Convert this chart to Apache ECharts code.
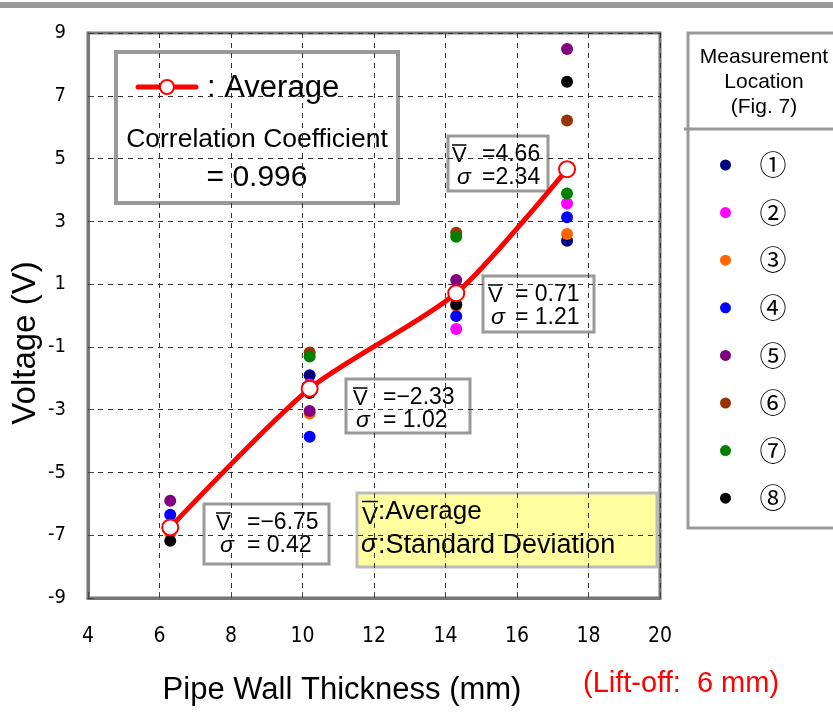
<!DOCTYPE html>
<html>
<head>
<meta charset="utf-8">
<script src="https://cdn.jsdelivr.net/npm/echarts@6/dist/echarts.min.js"></script>
<style>
  html, body { margin: 0; padding: 0; background: #fff; }
  #chart { width: 833px; height: 714px; }
</style>
</head>
<body>
<div id="chart"></div>
<script>
// pipe wall thickness (mm)
const thickness = [6.3, 10.2, 14.3, 17.4];
// voltage per measurement location (V)
const loc1 = [-6.8, -1.9, 0.6, 2.38];
const loc2 = [-6.9, -2.2, -0.43, 3.57];
const loc3 = [-6.95, -3.12, 0.3, 2.6];
const loc4 = [-6.35, -3.86, -0.02, 3.13];
const loc5 = [-5.9, -3.04, 1.13, 8.49];
const loc6 = [-6.75, -1.18, 2.64, 6.21];
const loc7 = [-6.85, -1.31, 2.51, 3.89];
const loc8 = [-7.18, -2.47, 0.36, 7.45];
const average = [-6.75, -2.33, 0.71, 4.66];
const stdDev = [0.42, 1.02, 1.21, 2.34];

const locNames = ['①', '②', '③', '④', '⑤', '⑥', '⑦', '⑧'];
const locColors = ['#000080', '#ff00ff', '#ff6600', '#0000ff', '#800080', '#993300', '#008000', '#000000'];
const locData = [loc1, loc2, loc3, loc4, loc5, loc6, loc7, loc8];

const sans = "'Liberation Sans', Arial, sans-serif";
const narrow = "'Liberation Sans Narrow', 'DejaVu Sans Condensed', sans-serif";

const pairs = (ys) => thickness.map((x, i) => [x, ys[i]]);

const scatterSeries = locData.map((ys, i) => ({
  name: locNames[i],
  type: 'scatter',
  data: pairs(ys),
  symbolSize: 12,
  itemStyle: { color: locColors[i], opacity: 1 },
  z: 2 + i,
}));

function fmt(v) {
  return (v < 0 ? '\u2212' : '') + Math.abs(v).toFixed(2);
}

function txt(x, y, text, size, extra) {
  return {
    type: 'text', x: x, y: y,
    style: Object.assign({ text: text, fontSize: size, fontFamily: sans, fill: '#000' }, extra || {}),
  };
}

// "V" with an overline: text top at ty, bar at by
function vBar(x, ty, by, size) {
  return [
    txt(x, ty, 'V', size),
    { type: 'line', shape: { x1: x, y1: by, x2: x + size * 0.66, y2: by },
      style: { stroke: '#000', lineWidth: 1.5 } },
  ];
}

// stat box: rect + two lines of text
function statBox(x, y, w, h, i, o) {
  return {
    type: 'group',
    x: x,
    y: y,
    z: 50,
    children: [
      { type: 'rect', shape: { x: 0, y: 0, width: w, height: h },
        style: { fill: '#fff', stroke: '#999', lineWidth: 3 } },
      ...vBar(o.vx, 9, 9, 22),
      txt(o.eqx, 7, o.sepA + fmt(average[i]), 23),
      txt(o.sx, 30, 'σ', 23, { fontStyle: 'italic' }),
      txt(o.eqx, 30, o.sepB + stdDev[i].toFixed(2), 23),
    ],
  };
}

const chart = echarts.init(document.getElementById('chart'));
chart.setOption({
  animation: false,
  grid: {
    left: 88, top: 33, right: 173, bottom: 116,
    show: true, borderColor: '#777', borderWidth: 3,
  },
  legend: {
    data: locNames,
    orient: 'vertical',
    left: 715,
    top: 145,
    itemWidth: 30,
    itemHeight: 11,
    itemGap: 17.6,
    icon: 'circle',
    selectedMode: false,
    textStyle: {
      fontSize: 27, lineHeight: 30, color: '#000',
      fontFamily: "'Noto Sans CJK JP', sans-serif",
      padding: [0, 0, 0, 14],
    },
  },
  xAxis: {
    type: 'value',
    min: 4, max: 20, interval: 2,
    axisLine: { show: true, onZero: false, lineStyle: { color: '#777', width: 3 } },
    axisTick: { show: true, inside: true, length: 6, lineStyle: { color: '#444' } },
    axisLabel: { fontSize: 21, color: '#000', margin: 28, fontFamily: narrow },
    splitLine: { show: true, lineStyle: { color: '#333', type: [5, 5], width: 1 } },
  },
  yAxis: {
    type: 'value',
    min: -9, max: 9, interval: 2,
    axisLine: { show: true, onZero: false, lineStyle: { color: '#777', width: 3 } },
    axisTick: { show: true, inside: true, length: 6, lineStyle: { color: '#444' } },
    axisLabel: { fontSize: 20, color: '#000', margin: 22, fontFamily: narrow },
    splitLine: { show: true, lineStyle: { color: '#333', type: [5, 5], width: 1 } },
  },
  series: scatterSeries.concat([{
    name: 'Average',
    type: 'line',
    data: pairs(average),
    smooth: 0.25,
    symbol: 'circle',
    symbolSize: 16,
    showAllSymbol: true,
    lineStyle: { color: '#ff0000', width: 5 },
    itemStyle: { color: '#fff', borderColor: '#ff0000', borderWidth: 2 },
    z: 20,
  }]),
  graphic: [
    // top gray bar
    { type: 'rect', x: 0, y: 2, shape: { width: 833, height: 6 },
      style: { fill: '#9a9a9a' }, z: 0 },
    // axis titles
    txt(342, 690, 'Pipe Wall Thickness (mm)', 31, { align: 'center', verticalAlign: 'middle' }),
    Object.assign(txt(26, 343, 'Voltage (V)', 33, { align: 'center', verticalAlign: 'middle' }),
      { rotation: Math.PI / 2 }),
    // average / correlation box
    {
      type: 'group', x: 116, y: 52, z: 50,
      children: [
        { type: 'rect', shape: { x: 0, y: 0, width: 282, height: 151 },
          style: { fill: '#fff', stroke: '#999', lineWidth: 4 } },
        { type: 'line', shape: { x1: 22, y1: 35, x2: 80, y2: 35 },
          style: { stroke: '#ff0000', lineWidth: 5, lineCap: 'round' } },
        { type: 'circle', shape: { cx: 51, cy: 35, r: 7 },
          style: { fill: '#fff', stroke: '#ff0000', lineWidth: 2 } },
        txt(91, 21, ': Average', 31),
        txt(141, 74, 'Correlation Coefficient', 26.5, { align: 'center' }),
        txt(141, 111, '= 0.996', 30, { align: 'center' }),
      ],
    },
    // stat boxes
    statBox(204, 504, 125, 60, 0, { vx: 12, sx: 16, eqx: 43, sepA: '=', sepB: '= ' }),
    statBox(346, 379, 124, 54, 1, { vx: 7, sx: 10, eqx: 37, sepA: '=', sepB: '= ' }),
    statBox(483, 276, 111, 56, 2, { vx: 5, sx: 8, eqx: 32, sepA: '= ', sepB: '= ' }),
    statBox(448, 136, 100, 55, 3, { vx: 4, sx: 9, eqx: 34, sepA: '=', sepB: '=' }),
    // symbol explanation box
    {
      type: 'group', x: 357, y: 493, z: 50,
      children: [
        { type: 'rect', shape: { x: 0, y: 0, width: 300, height: 74 },
          style: { fill: '#ffffa0', stroke: '#bbb', lineWidth: 3 } },
        ...vBar(5, 12, 8.5, 24),
        txt(21, 6, ':Average', 26),
        txt(4, 39, 'σ', 26, { fontStyle: 'italic' }),
        txt(21, 39, ':Standard Deviation', 27),
      ],
    },
    // location legend frame
    { type: 'rect', x: 688, y: 33, z: 0,
      shape: { width: 160, height: 495 },
      style: { fill: '#fff', stroke: '#999', lineWidth: 3 } },
    { type: 'line', z: 1, shape: { x1: 684, y1: 129, x2: 833, y2: 129 },
      style: { stroke: '#999', lineWidth: 3 } },
    Object.assign(txt(764, 45, 'Measurement\nLocation\n(Fig. 7)', 21, { align: 'center', lineHeight: 25 }), { z: 2 }),
    // lift-off note
    Object.assign(txt(583, 669, '(Lift-off:  6 mm)', 29, { fill: '#ff0000' }), { z: 2 }),
  ],
});
</script>
</body>
</html>
